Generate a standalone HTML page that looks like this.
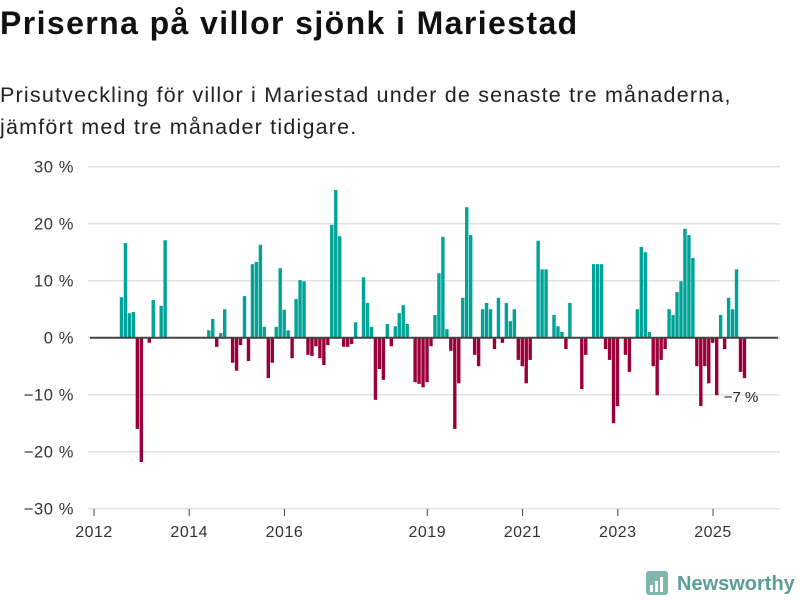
<!DOCTYPE html>
<html><head><meta charset="utf-8"><style>
body{margin:0;background:#fff;font-family:"Liberation Sans",sans-serif;}
#wrap{position:relative;width:800px;height:600px;overflow:hidden;}
h1{position:absolute;left:0;top:5px;margin:0;font-size:32px;font-weight:bold;color:#111;letter-spacing:1.4px;}
.sub{position:absolute;left:0;top:79px;font-size:21.5px;line-height:32px;color:#222;letter-spacing:1.2px;}
</style></head><body>
<div id="wrap">
<h1>Priserna på villor sjönk i Mariestad</h1>
<div class="sub">Prisutveckling för villor i Mariestad under de senaste tre månaderna,<br>jämfört med tre månader tidigare.</div>
<svg id="chart" width="800" height="600" style="position:absolute;left:0;top:0"></svg>
</div>
<script>
const startIndex = 6; // months since Jan 2012
const values = [7.1,16.6,4.3,4.5,-16,-21.8,null,-0.9,6.6,null,5.6,17.1,
null,null,null,null,null,null,null,null,null,null,
1.3,3.3,-1.6,0.8,5.0,null,-4.4,-5.8,-1.3,7.3,-4.1,12.9,13.3,16.3,1.9,-7.1,-4.4,1.9,12.2,4.9,1.3,-3.6,6.8,10.1,9.9,-3.0,-3.2,
-1.5,-3.6,-4.8,-1.3,19.8,25.9,17.8,-1.6,-1.6,-1.1,2.7,null,10.6,6.1,1.9,-10.9,-5.5,-7.4,2.4,-1.5,2.0,4.3,5.7,2.4,null,
-7.8,-8.1,-8.7,-7.8,-1.5,4.0,11.3,17.7,1.5,-2.3,-16.0,-8.0,7.0,22.9,18.0,-3.0,-5.0,5.0,6.1,5.0,-2.0,7.0,-0.9,6.1,2.9,5.0,
-3.9,-5.0,-8.0,-3.9,null,17.0,12.0,12.0,null,4.0,2.0,1.0,-2.0,6.1,null,null,-9.0,-3.0,null,12.9,12.9,12.9,-2.0,-3.9,-15.0,-12.0,null,
-3.0,-6.0,null,5.0,15.9,15.0,1.0,-5.0,-10.1,-3.9,-2.0,5.0,4.0,8.0,9.9,19.1,18.0,14.0,-5.0,-12.0,-5.0,-8.0,-0.9,-10.1,4.0,-2.0,7.0,5.0,12.0,-6.0,-7.1];
const yTicks = [30,20,10,0,-10,-20,-30];
const xTickYears = [2012,2014,2016,2019,2021,2023,2025];
const lastLabel = "−7 %";

const NS="http://www.w3.org/2000/svg";
const svg=document.getElementById('chart');
const y0=337.7, pxPer=5.7;
const yS=v=>y0-v*pxPer;
const mW=3.968, x0=94;
const xS=m=>x0+m*mW;
function mk(t,a){const e=document.createElementNS(NS,t);for(const k in a)e.setAttribute(k,a[k]);svg.appendChild(e);return e;}
yTicks.forEach(t=>{
  const l=mk('line',{x1:88,x2:780,y1:yS(t),y2:yS(t),stroke:'#e0e0e0','stroke-width':1.5});
  
  
  const tx=mk('text',{x:74,y:yS(t)+6,'text-anchor':'end','font-size':16.5,fill:'#333','letter-spacing':0.6});
  tx.textContent=(t<0?'−'+(-t):t)+' %';
  
  
});
values.forEach((v,k)=>{
  if(v===null)return;
  const m=startIndex+k;
  const x=xS(m+0.5);
  const r=mk('rect',{x:x,width:3.4,y:Math.min(yS(v),y0),height:Math.abs(yS(v)-y0),fill:v>=0?'#00a398':'#99003b'});
  
  
});
const zl=mk('line',{x1:90,x2:778,y1:y0,y2:y0,stroke:'#444','stroke-width':2});


xTickYears.forEach(yr=>{
  const x=xS((yr-2012)*12);
  const tk=mk('line',{x1:x,x2:x,y1:509,y2:516,stroke:'#444','stroke-width':1});
  
  
  const t=mk('text',{x:x,y:537,'text-anchor':'middle','font-size':16,fill:'#333','letter-spacing':0.5});
  t.textContent=yr;
  
  
});
const lastM=startIndex+values.length-1;
const ll=mk('text',{x:xS(lastM+0.5)-19,y:yS(values[values.length-1])+24,'font-size':15,fill:'#222'});
ll.textContent=lastLabel;


const lr=mk('rect',{x:646,y:571,width:22,height:24,rx:3,fill:'#7fb6b0'});


[[650,585,3,7],[655,581,3,11],[660,577,3,15]].forEach(b=>{
  const br=mk('rect',{x:b[0],y:b[1],width:b[2],height:b[3],fill:'#fff'});
  
  
});
const lt=mk('text',{x:677,y:590,'font-size':20,'font-weight':'bold',fill:'#5a9e98'});
lt.textContent='Newsworthy';


</script>
</body></html>
